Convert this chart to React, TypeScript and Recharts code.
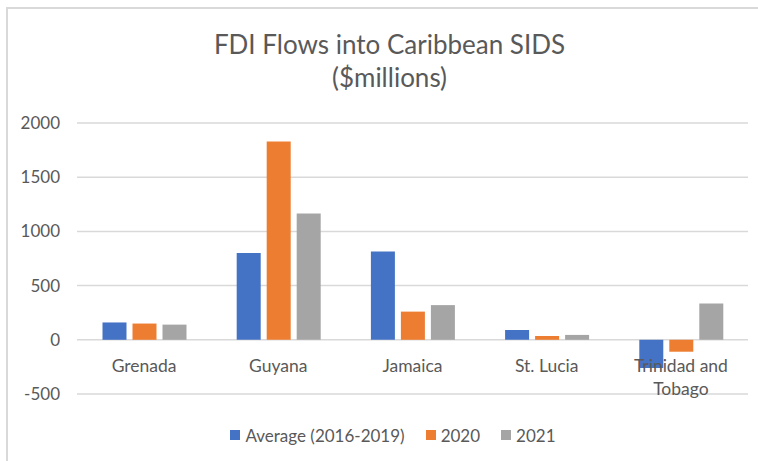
import { BarChart, Bar, XAxis, YAxis, CartesianGrid, Legend, Text } from "recharts";

const countries = ["Grenada", "Guyana", "Jamaica", "St. Lucia", "Trinidad and Tobago"];
const average2016to2019 = [160, 800, 815, 90, -260];
const values2020 = [150, 1830, 260, 35, -110];
const values2021 = [140, 1165, 320, 45, 335];
const yTicks = [-500, 0, 500, 1000, 1500, 2000];

const SERIES = [
  { key: "avg", name: "Average (2016-2019)", color: "#4472C4" },
  { key: "y2020", name: "2020", color: "#ED7D31" },
  { key: "y2021", name: "2021", color: "#A5A5A5" },
];

const data = countries.map((country, i) => ({
  country,
  avg: average2016to2019[i],
  y2020: values2020[i],
  y2021: values2021[i],
}));

const FONT = "Lato, 'Open Sans', sans-serif";
const TEXT_COLOR = "#595959";
const GRID = "#d9d9d9";

const CHART_W = 766;
const CHART_H = 460;
const MARGIN = { top: 114, right: 26, left: 0, bottom: 23 };
const X_AXIS_H = 30;
const LEGEND_H = 22;
const Y_MIN = yTicks[0];
const Y_MAX = yTicks[yTicks.length - 1];
const PLOT_H = CHART_H - MARGIN.top - MARGIN.bottom - X_AXIS_H - LEGEND_H;
// category axis crosses the value axis at 0, like Excel
const ZERO_SHIFT = (PLOT_H * (0 - Y_MIN)) / (Y_MAX - Y_MIN);

// eslint-disable-next-line @typescript-eslint/no-explicit-any
const CategoryTick = (props: any) => {
  const { x, y, payload } = props;
  return (
    <Text
      x={x}
      y={y - ZERO_SHIFT + 20}
      width={122}
      textAnchor="middle"
      verticalAnchor="start"
      lineHeight={23}
      fill={TEXT_COLOR}
      style={{ fontSize: 17.5, fontFamily: FONT }}
      fontSize={17.5}
      fontFamily={FONT}
    >
      {payload.value}
    </Text>
  );
};

const LegendContent = () => (
  <div
    style={{
      height: LEGEND_H,
      display: "flex",
      justifyContent: "center",
      alignItems: "center",
      gap: 21,
      paddingLeft: 30,
      fontFamily: FONT,
      fontSize: 17,
      color: TEXT_COLOR,
    }}
  >
    {SERIES.map((s) => (
      <div key={s.key} style={{ display: "flex", alignItems: "center", gap: 5 }}>
        <span style={{ width: 10, height: 10, background: s.color, display: "inline-block" }} />
        <span>{s.name}</span>
      </div>
    ))}
  </div>
);

export default function App() {
  return (
    <div
      style={{
        position: "fixed",
        left: 0,
        top: 0,
        width: 758,
        height: 461,
        overflow: "hidden",
        background: "#fff",
      }}
    >
      <div
        style={{
          position: "absolute",
          left: 6,
          top: 7,
          width: CHART_W,
          height: CHART_H,
          borderTop: `2px solid ${GRID}`,
          borderLeft: `2px solid ${GRID}`,
        }}
      >
        <BarChart
          width={CHART_W}
          height={CHART_H}
          data={data}
          margin={MARGIN}
          barCategoryGap="19%"
          barGap={6}
        >
          <CartesianGrid vertical={false} stroke={GRID} strokeWidth={1.5} />
          <XAxis
            dataKey="country"
            height={X_AXIS_H}
            axisLine={false}
            tickLine={false}
            tickSize={0}
            tickMargin={0}
            interval={0}
            tick={<CategoryTick />}
          />
          <YAxis
            width={69}
            domain={[Y_MIN, Y_MAX]}
            ticks={yTicks}
            axisLine={false}
            tickLine={false}
            tickSize={0}
            tickMargin={17}
            tick={{ fill: TEXT_COLOR, fontSize: 17, fontFamily: FONT }}
          />
          <Legend verticalAlign="bottom" height={LEGEND_H} content={<LegendContent />} />
          {SERIES.map((s) => (
            <Bar key={s.key} dataKey={s.key} name={s.name} fill={s.color} isAnimationActive={false} />
          ))}
        </BarChart>
      </div>
      <div
        style={{
          position: "absolute",
          left: 0,
          top: 28,
          width: 779,
          textAlign: "center",
          fontFamily: FONT,
          fontSize: 26,
          lineHeight: "33px",
          color: TEXT_COLOR,
        }}
      >
        FDI Flows into Caribbean SIDS
        <br />
        ($millions)
      </div>
    </div>
  );
}
